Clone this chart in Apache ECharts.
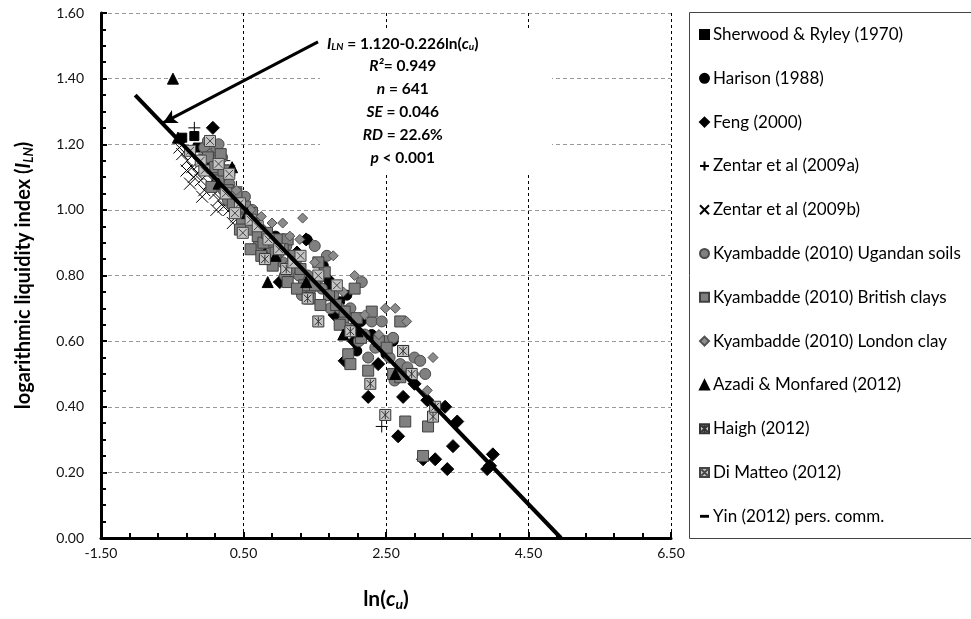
<!DOCTYPE html>
<html>
<head>
<meta charset="utf-8">
<script src="https://cdn.jsdelivr.net/npm/echarts@6/dist/echarts.min.js"></script>
<style>
html, body { margin: 0; padding: 0; background: #fff; }
#chart { width: 971px; height: 619px; }
</style>
</head>
<body>
<div id="chart"></div>
<script>
// axis ranges
const xMin = -1.5, xMax = 6.5, xStep = 2;
const yMin = 0, yMax = 1.6, yStep = 0.2;

// data: [ln(cu), ILN]
const sherwood = [[-0.36,1.22],[-0.19,1.225],[-0.14,1.19],[0.05,1.13],[0.2,1.08],[0.35,1.05],[0.12,1.1]];
const harison = [[0.83,0.87],[1.39,0.91],[2.09,0.57],[2.6,0.6],[1.62,0.83],[1.95,0.74],[2.3,0.62],[1.2,0.86],[2.15,0.66],[2.5,0.56],[1.85,0.72],[0.95,0.92],[0.45,1.0],[1.7,0.77]];
const feng = [[0.07,1.25],[1.38,0.91],[1.01,0.78],[1.92,0.54],[2.39,0.53],[2.25,0.43],[2.74,0.43],[2.67,0.31],[3.02,0.24],[3.19,0.24],[3.36,0.21],[3.33,0.4],[3.5,0.355],[3.44,0.28],[4.0,0.255],[3.96,0.22],[3.92,0.21],[3.08,0.42],[2.05,0.6],[1.68,0.79],[1.25,0.87],[2.9,0.47],[1.78,0.68]];
const zentarA = [[-0.19,1.25],[0.23,1.15],[2.44,0.34],[0.1,1.14],[0.4,1.07],[-0.05,1.17]];
const zentarB = [[-0.36,1.17],[-0.29,1.15],[-0.22,1.13],[-0.15,1.11],[-0.1,1.09],[-0.3,1.12],[-0.2,1.1],[-0.05,1.06],[0.02,1.08],[0.1,1.05],[0.15,1.03],[0.22,1.01],[-0.12,1.14],[0.3,1.0],[0.4,0.98],[-0.4,1.19],[0.05,1.12],[-0.25,1.08],[-0.08,1.04],[0.12,1.0],[0.35,0.96],[0.5,0.95]];
const ugandan = [[-0.05,1.19],[0.0,1.21],[0.05,1.17],[0.1,1.15],[0.12,1.19],[0.18,1.12],[0.2,1.16],[0.25,1.09],[0.3,1.08],[0.33,1.04],[0.38,1.05],[0.42,1.02],[0.45,1.0],[0.5,0.99],[0.55,0.97],[0.6,0.96],[0.62,1.0],[0.7,0.89],[0.75,0.94],[0.8,0.92],[0.85,0.9],[0.9,0.88],[1.0,0.87],[1.05,0.84],[1.1,0.89],[1.15,0.83],[1.2,0.81],[1.25,0.85],[1.32,0.74],[1.4,0.8],[1.5,0.89],[1.55,0.79],[1.6,0.76],[1.67,0.86],[1.76,0.74],[1.85,0.7],[1.9,0.66],[2.0,0.7],[2.05,0.64],[2.16,0.78],[2.2,0.62],[2.3,0.66],[2.35,0.58],[2.44,0.66],[2.5,0.6],[2.55,0.55],[2.6,0.61],[2.7,0.53],[2.8,0.52],[2.9,0.55],[2.98,0.54],[3.05,0.5],[2.62,0.48],[2.25,0.55],[0.08,1.11],[0.28,1.03],[0.52,1.04],[0.68,0.95],[0.95,0.85],[1.08,0.8],[1.28,0.8],[1.45,0.76],[1.72,0.7],[1.95,0.64],[2.12,0.6],[0.22,1.06],[0.4,0.99],[0.15,1.2]];
const british = [[0.0,1.16],[0.1,1.13],[0.15,1.09],[0.22,1.12],[0.28,1.06],[0.35,1.02],[0.4,1.05],[0.48,0.97],[0.52,1.01],[0.58,0.94],[0.65,0.97],[0.7,0.92],[0.78,0.9],[0.83,0.93],[0.91,0.83],[0.95,0.87],[1.0,0.91],[1.12,0.78],[1.12,0.91],[1.2,0.86],[1.3,0.82],[1.43,0.73],[1.5,0.77],[1.64,0.81],[1.7,0.74],[1.8,0.71],[1.97,0.56],[2.0,0.53],[2.06,0.76],[2.09,0.67],[2.15,0.61],[2.25,0.51],[2.3,0.69],[2.4,0.6],[2.51,0.58],[2.6,0.5],[2.7,0.66],[2.7,0.49],[2.74,0.57],[2.77,0.355],[3.02,0.25],[3.09,0.34],[1.85,0.65],[1.58,0.71],[0.6,0.88],[1.35,0.77],[0.05,1.07],[0.3,1.12],[0.45,0.94],[0.75,0.86],[1.05,0.88],[1.25,0.76],[1.55,0.84],[1.92,0.69],[0.18,1.17],[0.62,0.99]];
const london = [[1.76,0.86],[2.06,0.8],[2.49,0.7],[2.79,0.66],[3.16,0.55],[3.08,0.45],[1.29,0.91],[1.05,0.96],[1.33,0.975],[2.63,0.7],[0.9,0.96],[1.5,0.84],[1.9,0.75],[2.2,0.68],[0.6,1.0],[0.4,1.06],[2.4,0.62],[2.9,0.5],[0.75,0.98],[1.15,0.92]];
const azadi = [[-0.49,1.4],[-0.42,1.22],[0.84,0.78],[1.38,0.78],[2.1,0.63],[2.63,0.5],[0.34,1.13],[0.15,1.08],[0.55,0.99],[1.9,0.62],[0.95,0.86]];
const haigh = [[1.55,0.66],[2.28,0.47],[2.0,0.63],[2.74,0.57],[2.86,0.5],[2.49,0.375],[3.16,0.37],[3.19,0.4],[1.1,0.82],[1.4,0.73],[0.8,0.85]];
const diMatteo = [[0.03,1.21],[0.49,0.93],[1.81,0.77],[-0.1,1.15],[0.15,1.14],[0.25,1.05],[0.3,1.11],[0.45,1.02],[0.6,0.97],[0.7,0.95],[0.85,0.91],[1.0,0.88],[1.2,0.84],[1.3,0.86],[1.55,0.8],[-0.25,1.18],[-0.05,1.12],[0.38,0.99]];
const yinLine = [[-1.02,1.35],[4.956,0]];
// annotation arrow, from the text to the line
const arrowFrom = [1.546, 1.512];
const arrowTo = [-0.63, 1.265];

const FONT = 'Lato';

const scatterDefs = [
    { name: 'Sherwood & Ryley (1970)', data: sherwood, symbol: 'rect', size: 9, fill: '#000', line: '#000' },
    { name: 'Harison (1988)', data: harison, symbol: 'circle', size: 10, fill: '#000', line: '#000' },
    { name: 'Feng (2000)', data: feng, symbol: 'diamond', size: 13, fill: '#000', line: '#000' },
    { name: 'Zentar et al (2009a)', data: zentarA, symbol: 'path://M5,0L5,10M0,5L10,5', size: 12, fill: 'rgba(0,0,0,0)', line: '#000' },
    { name: 'Zentar et al (2009b)', data: zentarB, symbol: 'path://M0,0L10,10M10,0L0,10', size: 12, fill: 'rgba(0,0,0,0)', line: '#000' },
    { name: 'Kyambadde (2010) Ugandan soils', data: ugandan, symbol: 'circle', size: 11, fill: '#808080', line: '#4a4a4a' },
    { name: 'Kyambadde (2010) British clays', data: british, symbol: 'rect', size: 11, fill: '#808080', line: '#404040' },
    { name: 'Kyambadde (2010) London clay', data: london, symbol: 'diamond', size: 10, fill: '#8c8c8c', line: '#505050' },
    { name: 'Azadi & Monfared (2012)', data: azadi, symbol: 'triangle', size: 11, fill: '#000', line: '#000' },
    { name: 'Haigh (2012)', data: haigh, symbol: 'path://M0,0L10,0L10,10L0,10Z M1.5,1.5L8.5,8.5 M8.5,1.5L1.5,8.5 M5,1L5,9', size: 11, fill: '#c4c4c4', line: '#333' },
    { name: 'Di Matteo (2012)', data: diMatteo, symbol: 'path://M0,0L10,0L10,10L0,10Z M1.5,1.5L8.5,8.5 M8.5,1.5L1.5,8.5', size: 11, fill: '#c4c4c4', line: '#444' }
];

const series = scatterDefs.map(d => ({
    name: d.name,
    type: 'scatter',
    data: d.data,
    symbol: d.symbol,
    symbolSize: d.size,
    itemStyle: { color: d.fill, borderColor: d.line, borderWidth: 1, opacity: 1 },
    emphasis: { disabled: true },
    z: 3
}));

series.push({
    name: 'Yin (2012) pers. comm.',
    type: 'line',
    data: yinLine,
    symbol: 'none',
    lineStyle: { color: '#000', width: 4 },
    itemStyle: { color: '#000' },
    emphasis: { disabled: true },
    z: 4,
    markLine: {
        silent: true,
        symbol: ['none', 'arrow'],
        symbolSize: [11, 14],
        label: { show: false },
        lineStyle: { color: '#000', width: 3, type: 'solid' },
        data: [[{ coord: arrowFrom }, { coord: arrowTo }]]
    }
});

const legendData = series.map(s => {
    if (s.type === 'line') {
        return { name: s.name, icon: 'path://M0,0M10,10M0,3.4L10,3.4L10,6.6L0,6.6Z' };
    }
    return { name: s.name };
});

const chart = echarts.init(document.getElementById('chart'));
chart.setOption({
    animation: false,
    backgroundColor: '#fff',
    grid: { left: 101, right: 300, top: 13, bottom: 81 },
    xAxis: {
        type: 'value',
        min: xMin, max: xMax, interval: xStep,
        name: 'ln({i|c}{s|u})',
        nameLocation: 'middle',
        nameGap: 49,
        nameTextStyle: {
            fontFamily: FONT, fontSize: 21, fontWeight: 'bold', color: '#000',
            rich: {
                i: { fontFamily: FONT, fontSize: 21, fontWeight: 'bold', fontStyle: 'italic', color: '#000' },
                s: { fontFamily: FONT, fontSize: 14, fontWeight: 'bold', fontStyle: 'italic', color: '#000', padding: [10, 0, 0, 0] }
            }
        },
        axisLine: { onZero: false, lineStyle: { color: '#000', width: 3 } },
        axisTick: { inside: true, length: 6, lineStyle: { color: '#000', width: 2 } },
        minorTick: { show: true, splitNumber: 5, length: 5, lineStyle: { color: '#000', width: 2 } },
        axisLabel: { fontFamily: FONT, fontSize: 14, color: '#111', margin: 8, formatter: v => v.toFixed(2) },
        splitLine: { show: true, lineStyle: { color: '#000', width: 1, type: [3, 3] } }
    },
    yAxis: {
        type: 'value',
        min: yMin, max: yMax, interval: yStep,
        name: 'logarithmic liquidity index ({i|I}{s|LN})',
        nameLocation: 'middle',
        nameGap: 66,
        nameTextStyle: {
            fontFamily: FONT, fontSize: 20, fontWeight: 'bold', color: '#000',
            rich: {
                i: { fontFamily: FONT, fontSize: 20, fontWeight: 'bold', fontStyle: 'italic', color: '#000' },
                s: { fontFamily: FONT, fontSize: 13, fontWeight: 'bold', fontStyle: 'italic', color: '#000', padding: [9, 0, 0, 0] }
            }
        },
        axisLine: { onZero: false, lineStyle: { color: '#000', width: 3 } },
        axisTick: { inside: true, length: 6, lineStyle: { color: '#000', width: 2 } },
        minorTick: { show: true, splitNumber: 4, length: 5, lineStyle: { color: '#000', width: 2 } },
        axisLabel: { fontFamily: FONT, fontSize: 14, color: '#111', margin: 17, formatter: v => v.toFixed(2) },
        splitLine: { show: true, lineStyle: { color: '#999', width: 1, type: [4, 3] } }
    },
    legend: {
        orient: 'vertical',
        left: 694,
        top: 21,
        itemWidth: 9,
        itemHeight: 9,
        itemGap: 26.8,
        selectedMode: false,
        textStyle: { fontFamily: FONT, fontSize: 17, color: '#000', lineHeight: 17, padding: [0, 0, 0, -1] },
        data: legendData
    },
    graphic: [
        {
            type: 'rect', z: 1, silent: true,
            shape: { x: 320, y: 30, width: 232, height: 145 },
            style: { fill: '#fff' }
        },
        {
            type: 'rect', z: 1, silent: true,
            shape: { x: 689.5, y: 12.5, width: 300, height: 526 },
            style: { fill: 'none', stroke: '#444', lineWidth: 1 }
        },
        {
            type: 'text', z: 10, silent: true,
            left: 327, top: 35,
            style: {
                text: [
                    '{i|I}{s|LN}{b| = 1.120-0.226ln(}{i|c}{s|u}{b|)}',
                    '{i|R²}{b|= 0.949}',
                    '{i|n}{b| = 641}',
                    '{i|SE}{b| = 0.046}',
                    '{i|RD}{b| = 22.6%}',
                    '{i|p}{b| < 0.001}'
                ].join('\n'),
                align: 'center',
                width: 214,
                fill: '#000',
                rich: {
                    b: { fontFamily: FONT, fontSize: 15.5, fontWeight: 'bold', lineHeight: 22.8, align: 'center' },
                    i: { fontFamily: FONT, fontSize: 15.5, fontWeight: 'bold', fontStyle: 'italic', lineHeight: 22.8, align: 'center' },
                    s: { fontFamily: FONT, fontSize: 10, fontWeight: 'bold', fontStyle: 'italic', lineHeight: 22.8, padding: [7, 0, 0, 0], align: 'center' }
                }
            }
        }
    ],
    series: series
});
</script>
</body>
</html>
